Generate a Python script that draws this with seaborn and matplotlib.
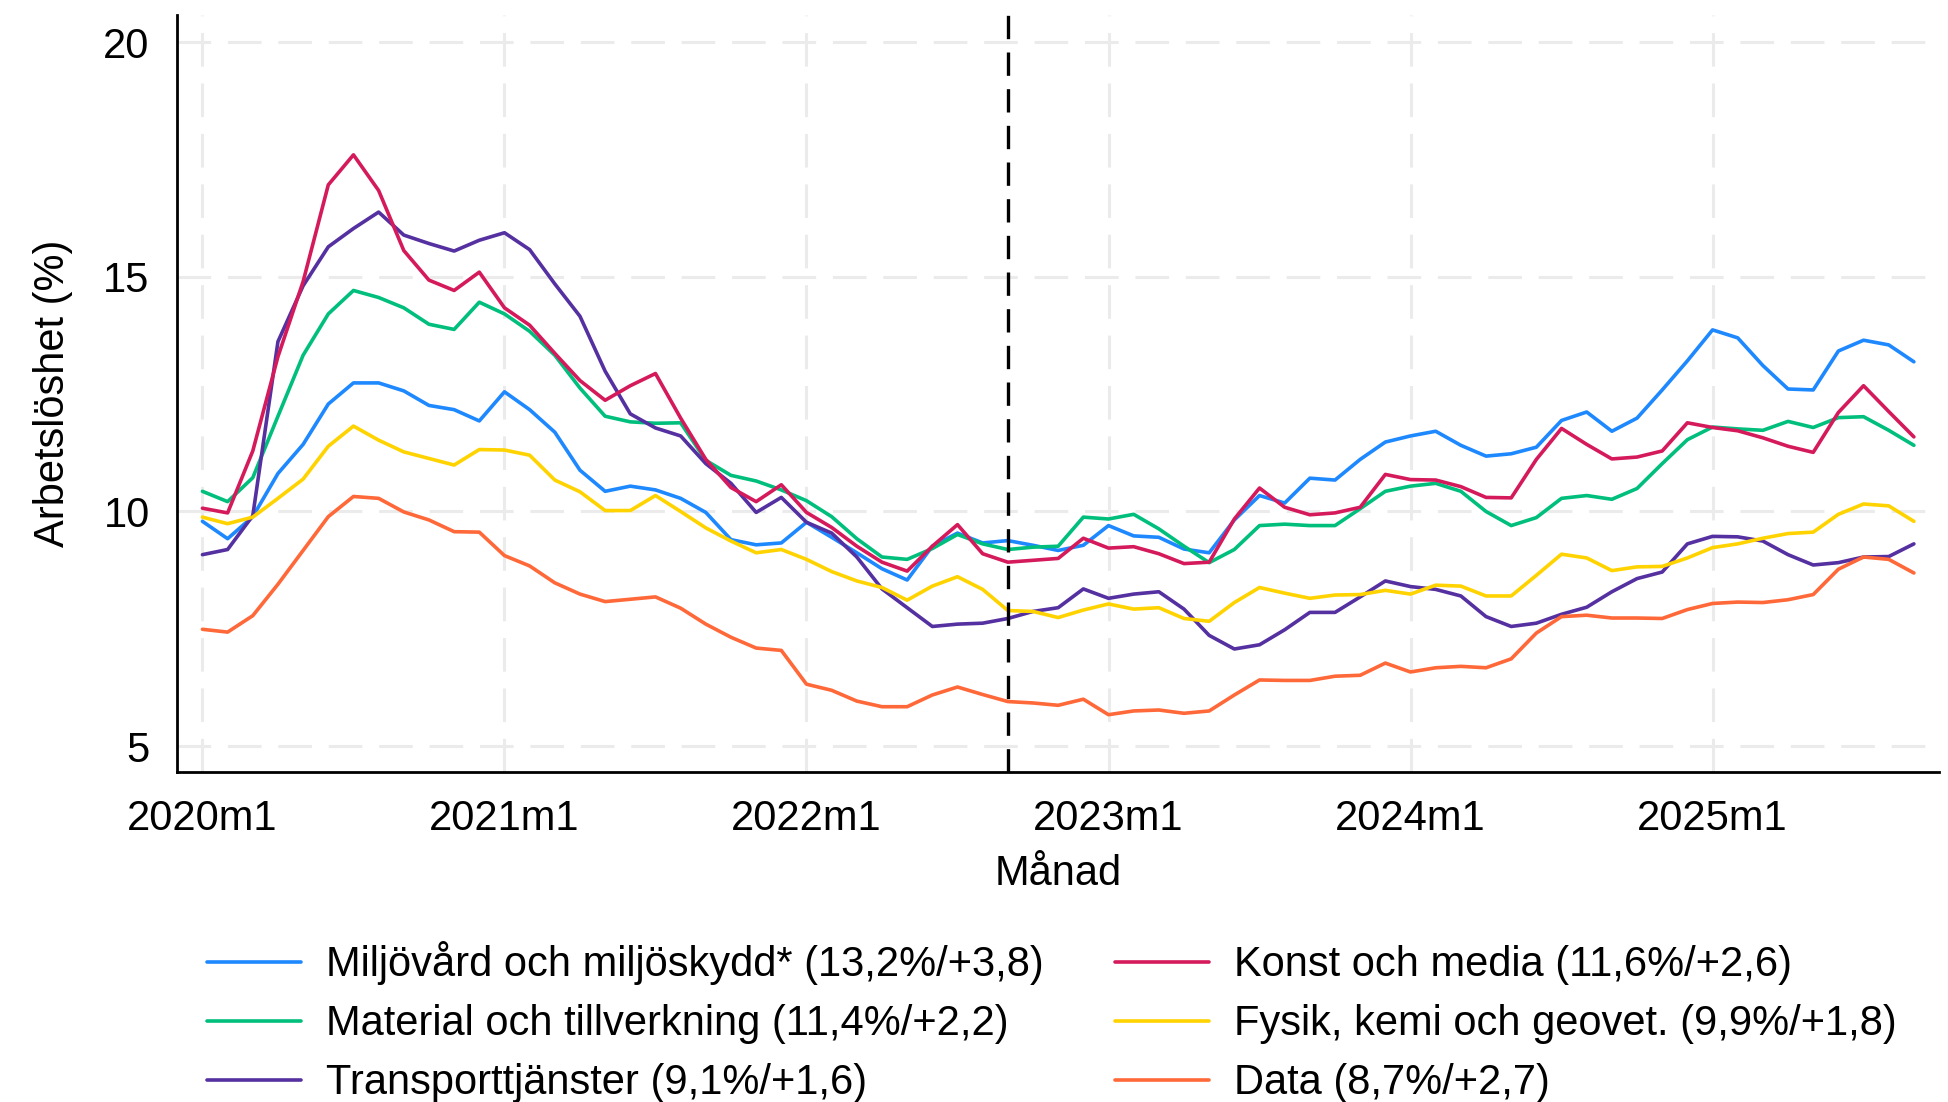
import numpy as np
import pandas as pd
import matplotlib
matplotlib.use("Agg")
import matplotlib.pyplot as plt
import seaborn as sns

# Monthly unemployment (%) 2020m1 .. 2025m9
miljo = [9.79, 9.42, 9.89, 10.81, 11.43, 12.29, 12.74, 12.74, 12.57, 12.26, 12.17, 11.93,
         12.55, 12.17, 11.69, 10.88, 10.43, 10.54, 10.46, 10.28, 9.98, 9.40, 9.29, 9.33,
         9.77, 9.45, 9.12, 8.78, 8.54, 9.26, 9.54, 9.33, 9.38, 9.28, 9.17, 9.28,
         9.70, 9.48, 9.45, 9.20, 9.12, 9.82, 10.34, 10.18, 10.71, 10.67, 11.11, 11.48,
         11.61, 11.71, 11.41, 11.18, 11.23, 11.37, 11.94, 12.12, 11.71, 11.99, 12.59, 13.21,
         13.87, 13.70, 13.11, 12.61, 12.59, 13.42, 13.65, 13.55, 13.19]
material = [10.43, 10.21, 10.72, 12.03, 13.33, 14.21, 14.71, 14.56, 14.34, 13.99, 13.88, 14.46,
            14.21, 13.84, 13.33, 12.63, 12.03, 11.91, 11.88, 11.89, 11.09, 10.77, 10.65, 10.46,
            10.23, 9.89, 9.42, 9.03, 8.98, 9.21, 9.51, 9.31, 9.19, 9.24, 9.26, 9.88,
            9.84, 9.94, 9.63, 9.26, 8.91, 9.19, 9.70, 9.73, 9.70, 9.70, 10.06, 10.43,
            10.54, 10.60, 10.43, 10.00, 9.70, 9.87, 10.28, 10.34, 10.26, 10.49, 11.02, 11.53,
            11.80, 11.76, 11.73, 11.92, 11.79, 12.00, 12.02, 11.73, 11.41]
transport = [9.08, 9.19, 9.91, 13.62, 14.81, 15.64, 16.03, 16.38, 15.89, 15.71, 15.55, 15.78,
             15.94, 15.58, 14.85, 14.16, 12.99, 12.08, 11.78, 11.61, 11.02, 10.60, 9.98, 10.30,
             9.77, 9.54, 9.03, 8.35, 7.95, 7.55, 7.60, 7.62, 7.72, 7.87, 7.95, 8.35,
             8.15, 8.24, 8.29, 7.92, 7.36, 7.07, 7.16, 7.48, 7.85, 7.85, 8.18, 8.52,
             8.40, 8.34, 8.20, 7.76, 7.55, 7.62, 7.81, 7.96, 8.29, 8.57, 8.71, 9.31,
             9.47, 9.46, 9.37, 9.08, 8.86, 8.91, 9.03, 9.04, 9.31]
konst = [10.07, 9.97, 11.29, 13.30, 14.90, 16.96, 17.60, 16.84, 15.56, 14.93, 14.71, 15.10,
         14.34, 13.97, 13.37, 12.79, 12.37, 12.68, 12.94, 11.99, 11.11, 10.51, 10.21, 10.57,
         9.98, 9.66, 9.26, 8.92, 8.73, 9.26, 9.72, 9.10, 8.92, 8.96, 9.00, 9.43,
         9.22, 9.25, 9.10, 8.89, 8.92, 9.84, 10.50, 10.09, 9.93, 9.97, 10.09, 10.79,
         10.68, 10.67, 10.53, 10.30, 10.29, 11.11, 11.77, 11.43, 11.12, 11.16, 11.29, 11.89,
         11.79, 11.72, 11.57, 11.39, 11.26, 12.11, 12.68, 12.13, 11.59]
fysik = [9.88, 9.74, 9.88, 10.28, 10.69, 11.39, 11.82, 11.52, 11.27, 11.13, 10.99, 11.32,
         11.31, 11.20, 10.67, 10.42, 10.02, 10.02, 10.34, 10.00, 9.65, 9.37, 9.12, 9.19,
         8.98, 8.72, 8.52, 8.38, 8.11, 8.41, 8.61, 8.34, 7.89, 7.87, 7.74, 7.90,
         8.03, 7.92, 7.95, 7.72, 7.66, 8.06, 8.38, 8.26, 8.15, 8.22, 8.23, 8.32,
         8.24, 8.43, 8.41, 8.20, 8.20, 8.64, 9.09, 9.01, 8.74, 8.82, 8.83, 9.01,
         9.23, 9.31, 9.43, 9.53, 9.56, 9.94, 10.16, 10.12, 9.79]
data_it = [7.49, 7.43, 7.78, 8.45, 9.17, 9.89, 10.32, 10.28, 9.99, 9.82, 9.57, 9.56,
           9.06, 8.84, 8.48, 8.24, 8.08, 8.13, 8.18, 7.94, 7.60, 7.32, 7.09, 7.04,
           6.32, 6.19, 5.96, 5.84, 5.84, 6.09, 6.26, 6.10, 5.95, 5.92, 5.87, 6.00,
           5.67, 5.75, 5.77, 5.70, 5.75, 6.09, 6.41, 6.40, 6.40, 6.49, 6.51, 6.77,
           6.58, 6.67, 6.70, 6.67, 6.86, 7.41, 7.76, 7.79, 7.73, 7.73, 7.72, 7.91,
           8.04, 8.07, 8.06, 8.12, 8.23, 8.77, 9.03, 8.98, 8.69]

labels = ["Miljövård och miljöskydd* (13,2%/+3,8)",
          "Material och tillverkning (11,4%/+2,2)",
          "Transporttjänster (9,1%/+1,6)",
          "Konst och media (11,6%/+2,6)",
          "Fysik, kemi och geovet. (9,9%/+1,8)",
          "Data (8,7%/+2,7)"]
colors = ["#1E88FF", "#00BF7D", "#5530A0", "#D51A5C", "#FFD300", "#FF6838"]
year_labels = ["2020m1", "2021m1", "2022m1", "2023m1", "2024m1", "2025m1"]
y_ticks = [5, 10, 15, 20]
marker_month = 32  # 2022m9

series = [miljo, material, transport, konst, fysik, data_it]
months = np.arange(len(miljo))
df = pd.concat([pd.DataFrame({"month": months, "value": s, "grupp": lab})
                for s, lab in zip(series, labels)], ignore_index=True)

sns.set_style("white")
plt.rcParams["font.family"] = ["Liberation Sans", "DejaVu Sans"]
plt.rcParams["text.color"] = "black"
plt.rcParams["axes.labelcolor"] = "black"
plt.rcParams["xtick.color"] = "black"
plt.rcParams["ytick.color"] = "black"

fig = plt.figure(figsize=(19.49, 11.02), dpi=100)
ax = fig.add_axes([0.0907, 0.2995, 0.9042, 0.6869])

grid_kw = dict(color="#EBEBEB", lw=2.2, dashes=(11, 5.5), zorder=0)
for yt in y_ticks:
    ax.axhline(yt, **grid_kw)
for k in range(len(year_labels)):
    ax.axvline(12 * k, **grid_kw)

sns.lineplot(data=df, x="month", y="value", hue="grupp", hue_order=labels,
             palette=dict(zip(labels, colors)), linewidth=2.6, ax=ax, legend=False)

ax.axvline(marker_month, color="black", lw=2.4, dashes=(7, 4), zorder=5)

ax.set_xlim(-1.02, 69.0)
ax.set_ylim(4.45, 20.58)
ax.set_xticks(np.arange(len(year_labels)) * 12)
ax.set_xticklabels(year_labels)
ax.set_yticks(y_ticks)
ax.tick_params(axis="both", labelsize=30, length=11.5, width=2, direction="out",
               color="black", labelcolor="black", pad=8)
for side in ["top", "right"]:
    ax.spines[side].set_visible(False)
for side in ["left", "bottom"]:
    ax.spines[side].set_linewidth(2)
    ax.spines[side].set_color("black")

ax.set_xlabel("Månad", fontsize=30, labelpad=11, color="black")
ax.set_ylabel("Arbetslöshet (%)", fontsize=30, labelpad=22, color="black")

handles = [plt.Line2D([], [], color=c, lw=2.6) for c in colors]
leg = fig.legend(handles, labels, loc="upper center", bbox_to_anchor=(0.5398, 0.146),
                 ncol=2, frameon=False, fontsize=30, handlelength=2.25, handletextpad=0.6,
                 columnspacing=1.72, labelspacing=0.46, borderpad=0, borderaxespad=0)
for t in leg.get_texts():
    t.set_color("black")

fig.savefig("out.png", dpi=100, facecolor="white")
